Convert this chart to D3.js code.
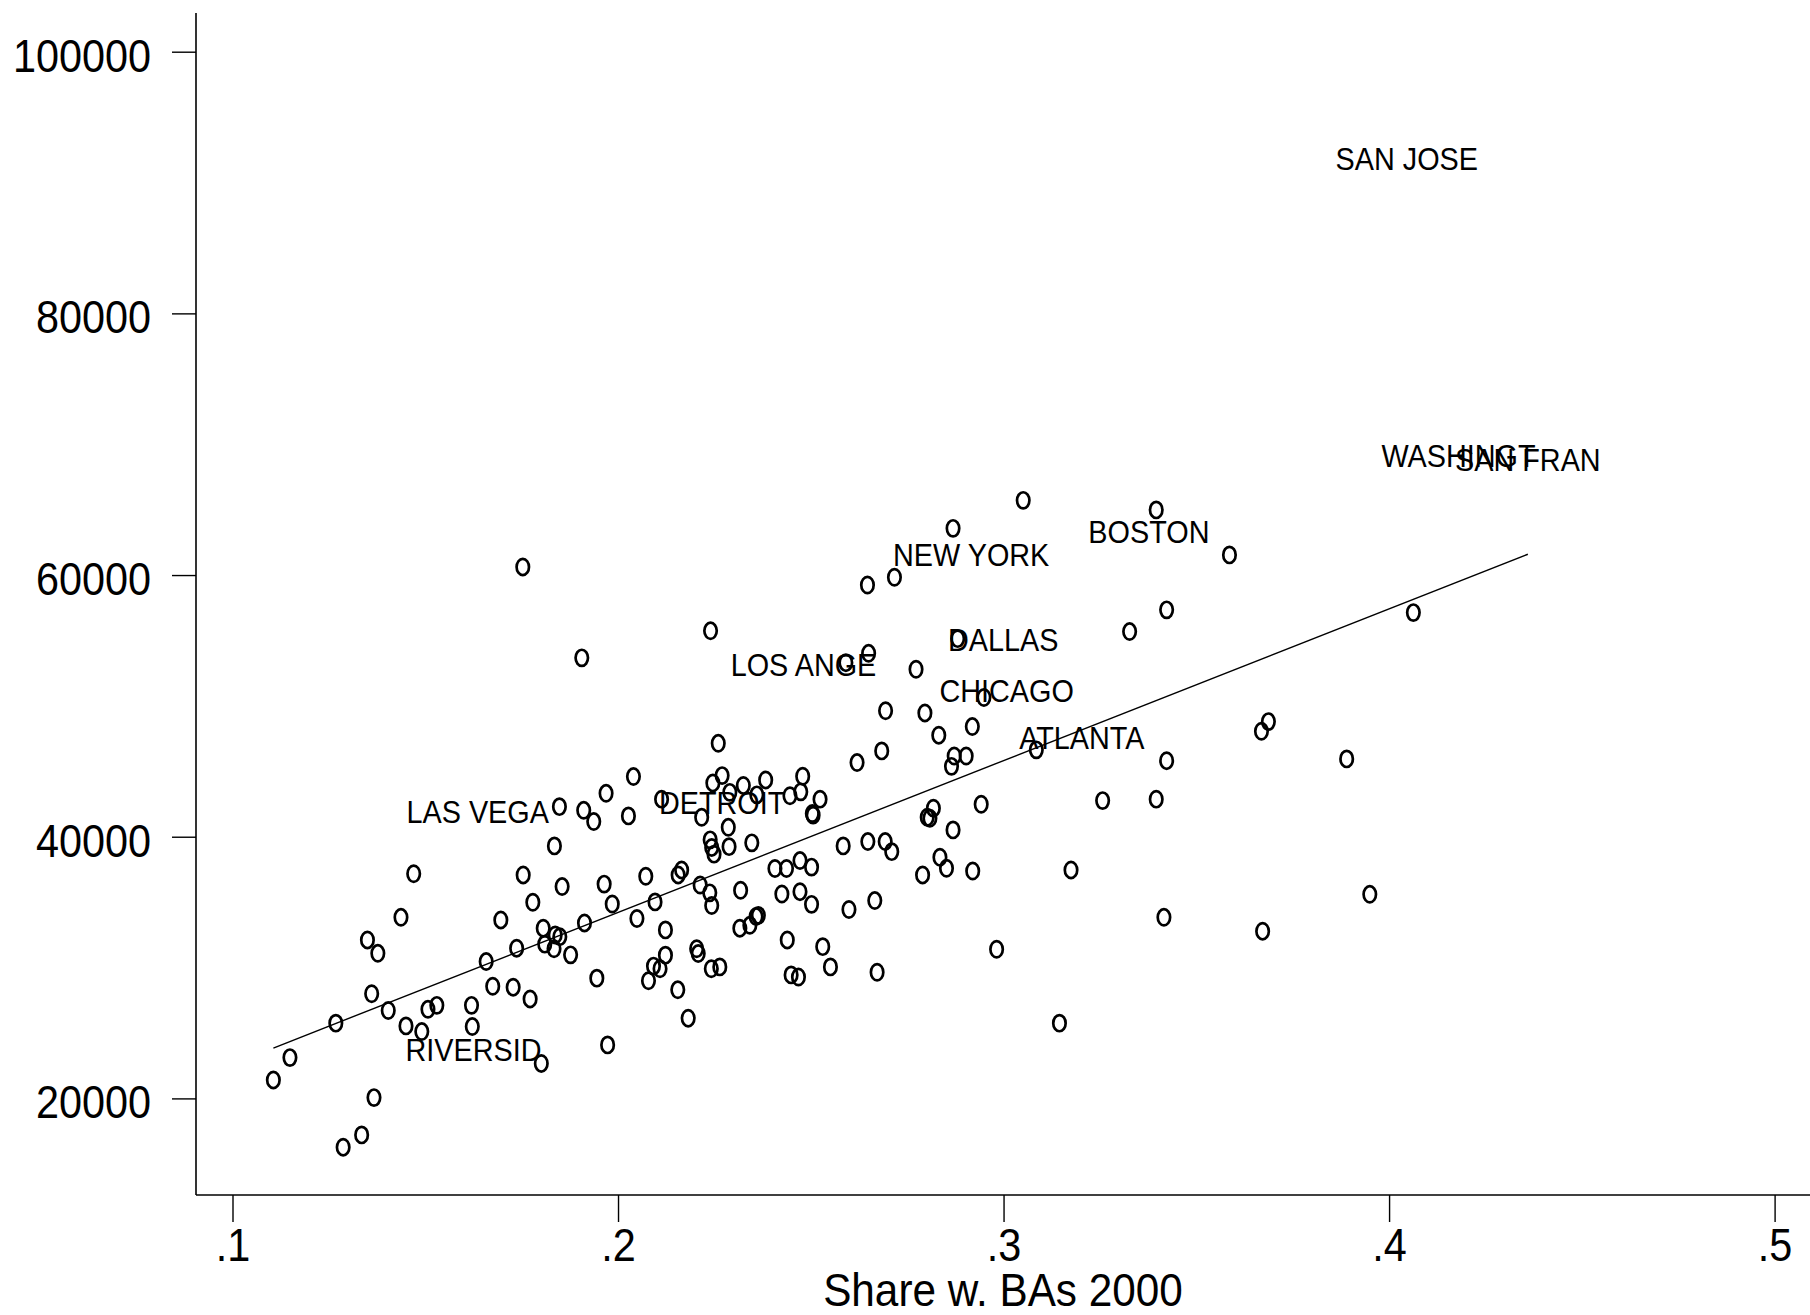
<!DOCTYPE html>
<html>
<head>
<meta charset="utf-8">
<script src="https://cdn.jsdelivr.net/npm/d3@7"></script>
<style>
  html, body { margin: 0; padding: 0; background: #fff; }
  svg { display: block; font-family: "Liberation Sans", Arial, sans-serif; }
</style>
</head>
<body>
<div id="chart"></div>
<script>
// share of adults with a BA (2000) and income, one value per metro area
var baShare = [
  0.1106, 0.1149, 0.1268, 0.1287, 0.1335, 0.1367, 0.1350, 0.1377, 0.1361, 0.1404,
  0.1437, 0.1450, 0.1470, 0.1491, 0.1507, 0.1530, 0.1620, 0.1622, 0.1658, 0.1696,
  0.1675, 0.1728, 0.1737, 0.1754, 0.1772, 0.1779, 0.1801, 0.1806, 0.1810, 0.1837,
  0.1849, 0.1834, 0.1835, 0.1848, 0.1855, 0.1877, 0.1913, 0.1911, 0.1937, 0.1945,
  0.1964, 0.1969, 0.1973, 0.1985, 0.2027, 0.2040, 0.2049, 0.2072, 0.2079, 0.2092,
  0.2109, 0.2096, 0.2123, 0.2123, 0.2113, 0.2155, 0.2156, 0.2165, 0.2182, 0.2204,
  0.2208, 0.2213, 0.2217, 0.2238, 0.2239, 0.2243, 0.2243, 0.2249, 0.2242, 0.2246,
  0.2260, 0.2264, 0.2270, 0.2288, 0.2286, 0.2290, 0.2318, 0.2316, 0.2325, 0.2342,
  0.2347, 0.2358, 0.2364, 0.2360, 0.2383, 0.2407, 0.2437, 0.2439, 0.2425, 0.2446,
  0.2449, 0.2468, 0.2472, 0.2472, 0.2474, 0.2479, 0.2502, 0.2502, 0.2504, 0.2506,
  0.2524, 0.2531, 0.2551, 0.2584, 0.2599, 0.2620, 0.2648, 0.2647, 0.2650, 0.2591,
  0.2666, 0.2672, 0.2684, 0.2693, 0.2694, 0.2710, 0.2717, 0.2773, 0.2790, 0.2796,
  0.2802, 0.2809, 0.2818, 0.2832, 0.2835, 0.2852, 0.2869, 0.2869, 0.2865, 0.2872,
  0.2881, 0.2903, 0.2919, 0.2920, 0.2942, 0.2949, 0.2982, 0.3051, 0.3085, 0.3145,
  0.3175, 0.3257, 0.3327, 0.3396, 0.3396, 0.3416, 0.3423, 0.3423, 0.3586, 0.3669,
  0.3687, 0.3672, 0.3890, 0.3950, 0.4063, 0.1753, 0.1906, 0.2240
];
var income = [
  21410, 23120, 25750, 16270, 17210, 20060, 32110, 31090, 28000, 26720,
  33840, 25540, 37170, 25110, 26810, 27110, 27110, 25490, 30460, 33640,
  28570, 28500, 31480, 37080, 27600, 34990, 22670, 33010, 31790, 32490,
  32360, 31440, 39300, 42300, 36190, 30970, 33410, 42020, 41160, 29190,
  36380, 43320, 24090, 34860, 41590, 44600, 33750, 36980, 28990, 30110,
  29910, 35020, 32880, 30950, 42870, 28300, 37080, 37460, 26130, 31440,
  31070, 36310, 41490, 35710, 39760, 39180, 34740, 38670, 29910, 44110,
  47140, 30050, 44670, 39240, 40720, 43390, 35910, 33010, 43920, 33230,
  39530, 33900, 33990, 43200, 44340, 37570, 37570, 32110, 35620, 43130,
  29440, 29280, 38180, 35800, 43430, 44620, 37680, 34830, 41770, 41650,
  42870, 31600, 30050, 39300, 34440, 45670, 39630, 59240, 54020, 53300,
  35120, 29640, 46560, 39630, 49630, 38860, 59830, 52800, 37080, 49460,
  41490, 41410, 42180, 47760, 38430, 37590, 40520, 63570, 45380, 46170,
  55140, 46170, 48420, 37380, 42480, 50640, 31400, 65710, 46640, 25750,
  37460, 42760, 55680, 64980, 42870, 33840, 57340, 45810, 61540, 48060,
  48800, 32780, 45950, 35600, 57130, 60620, 53670, 55740
];

// named metros: drawn as a label centred on the point instead of a marker
var cityNames = ["SAN JOSE", "WASHINGT", "SAN FRAN", "BOSTON", "NEW YORK", "DALLAS",
                 "LOS ANGE", "CHICAGO", "ATLANTA", "LAS VEGA", "DETROIT", "RIVERSID"];
var cityShare = [0.4046, 0.4180, 0.4360, 0.3377, 0.2916, 0.2999,
                 0.2481, 0.3008, 0.3203, 0.1636, 0.2270, 0.1625];
var cityIncome = [91850, 69130, 68860, 63320, 61590, 55110,
                  53160, 51170, 47580, 41930, 42590, 23760];

// ends of the linear fit
var fitShare = [0.1106, 0.4360];
var fitIncome = [23850, 61590];

var xTicks = [0.1, 0.2, 0.3, 0.4, 0.5];
var yTicks = [20000, 40000, 60000, 80000, 100000];

var svgWidth = 1810;
var svgHeight = 1315;
var squeeze = 0.9;   // the whole picture is a little narrow, text included

var plotLeft = 196, plotRight = 1810, plotTop = 13, plotBottom = 1195;

var svg = d3.select("#chart")
    .append("svg")
    .attr("width", svgWidth)
    .attr("height", svgHeight);

var x = d3.scaleLinear().domain([0.1, 0.5]).range([232.5, 1774.6]);
var y = d3.scaleLinear().domain([20000, 100000]).range([1098.4, 51.7]);

// axes
var yAxis = svg.append("g")
    .attr("transform", `translate(${plotLeft},0)`)
    .call(d3.axisLeft(y).tickValues(yTicks).tickSize(24).tickFormat(d3.format("d")));

var xAxis = svg.append("g")
    .attr("transform", `translate(0,${plotBottom})`)
    .call(d3.axisBottom(x).tickValues(xTicks).tickSize(27)
        .tickFormat(d => d3.format(".1f")(d).replace(/^0/, "")));

[yAxis, xAxis].forEach(function(g) {
    g.select(".domain").remove();
    g.selectAll(".tick line").attr("stroke", "#000").attr("stroke-width", 1.4);
    g.selectAll(".tick text")
        .attr("fill", "#000")
        .style("font-family", "'Liberation Sans', Arial, sans-serif")
        .style("font-size", "46px")
        .attr("dy", null);
});

yAxis.selectAll(".tick text")
    .attr("x", -45 / squeeze)
    .attr("y", 19.5)
    .attr("transform", `scale(${squeeze},1)`);

xAxis.selectAll(".tick text")
    .attr("y", 66)
    .attr("transform", `scale(${squeeze},1)`);

// axis lines
svg.append("line")
    .attr("x1", plotLeft).attr("x2", plotLeft)
    .attr("y1", plotTop).attr("y2", plotBottom)
    .attr("stroke", "#000").attr("stroke-width", 1.6);

svg.append("line")
    .attr("x1", plotLeft).attr("x2", plotRight)
    .attr("y1", plotBottom).attr("y2", plotBottom)
    .attr("stroke", "#000").attr("stroke-width", 1.6);

// x title
svg.append("text")
    .attr("transform", `translate(${(plotLeft + plotRight) / 2},1306) scale(${squeeze},1)`)
    .attr("text-anchor", "middle")
    .style("font-size", "47px")
    .text("Share w. BAs 2000");

// fit line
svg.append("line")
    .attr("x1", x(fitShare[0])).attr("y1", y(fitIncome[0]))
    .attr("x2", x(fitShare[1])).attr("y2", y(fitIncome[1]))
    .attr("stroke", "#000").attr("stroke-width", 1.4);

// hollow markers
var points = baShare.map((d, i) => ({ share: d, income: income[i] }));

svg.append("g")
    .selectAll("ellipse")
    .data(points)
    .enter()
    .append("ellipse")
    .attr("cx", d => x(d.share))
    .attr("cy", d => y(d.income))
    .attr("rx", 6.2)
    .attr("ry", 8.1)
    .attr("fill", "none")
    .attr("stroke", "#000")
    .attr("stroke-width", 2.7);

// city labels
var cities = cityNames.map((d, i) => ({ name: d, share: cityShare[i], income: cityIncome[i] }));

svg.append("g")
    .selectAll("text")
    .data(cities)
    .enter()
    .append("text")
    .attr("transform", d => `translate(${x(d.share)},${y(d.income) + 11.5}) scale(${squeeze},1)`)
    .attr("text-anchor", "middle")
    .style("font-size", "32px")
    .attr("fill", "#000")
    .text(d => d.name);
</script>
</body>
</html>
